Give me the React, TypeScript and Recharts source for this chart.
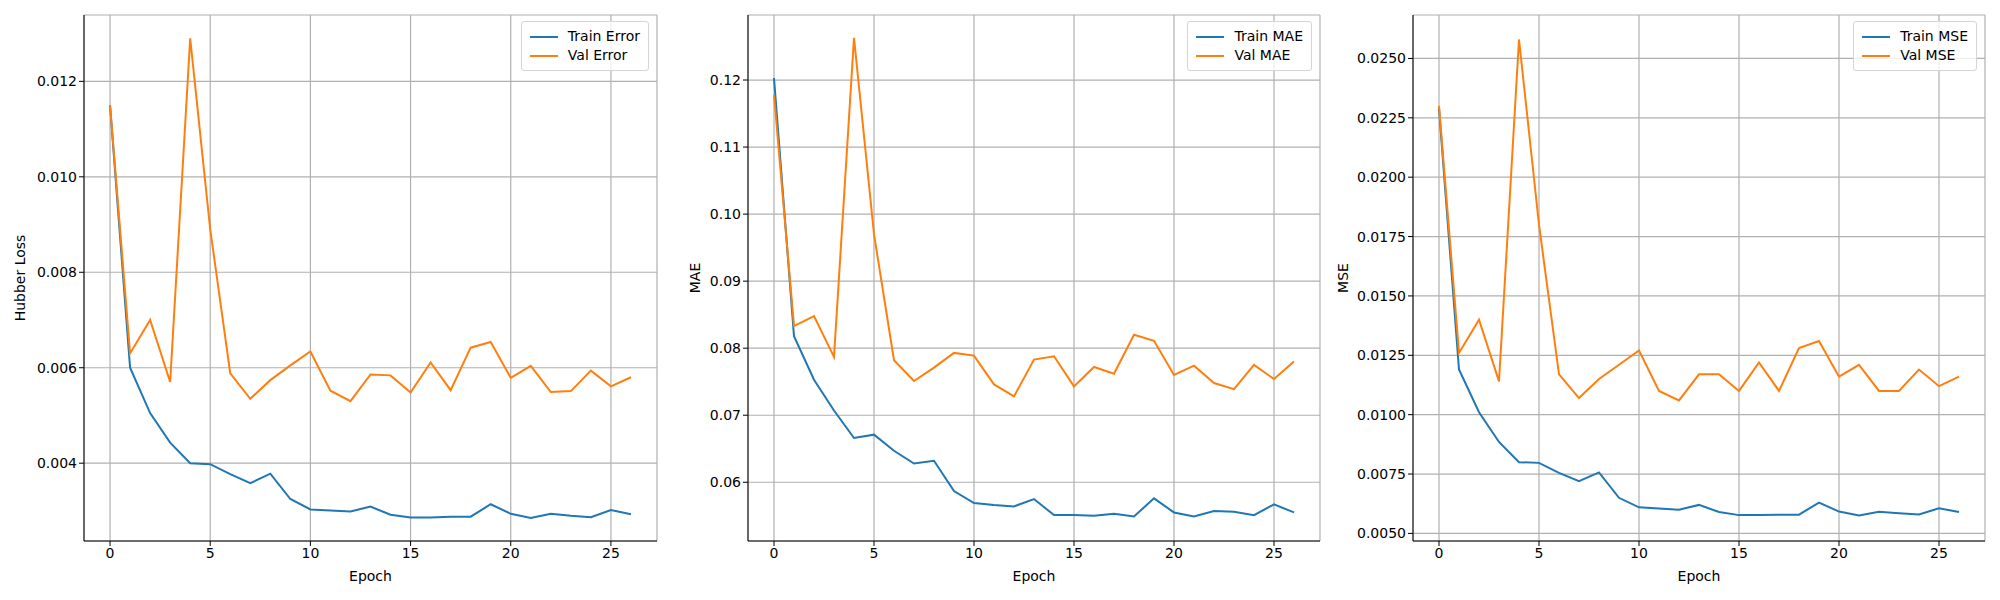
import React from 'react';
import { LineChart, Line, XAxis, YAxis, CartesianGrid, Label } from 'recharts';

const epochs = Array.from({ length: 27 }, (_, i) => i);
const xTicks = [0, 5, 10, 15, 20, 25];

const trainHuber = [0.0115,0.0060,0.00505,0.00443,0.0040,0.00398,0.00377,0.00358,0.00378,0.00325,0.00303,0.00301,0.00299,0.00309,0.00292,0.00286,0.00286,0.00288,0.00288,0.00314,0.00294,0.00285,0.00294,0.0029,0.00287,0.00302,0.00293];
const valHuber = [0.0115,0.0063,0.0070,0.0057,0.0129,0.0089,0.00588,0.00535,0.00574,0.00605,0.00634,0.00552,0.0053,0.00586,0.00584,0.00548,0.00611,0.00553,0.00642,0.00654,0.00579,0.00604,0.00549,0.00551,0.00594,0.00561,0.0058];
const trainMae = [0.1203,0.0818,0.0753,0.0707,0.0666,0.0671,0.0647,0.0628,0.0632,0.0587,0.0569,0.0566,0.0564,0.0575,0.0551,0.0551,0.0550,0.0553,0.0549,0.0576,0.0555,0.0549,0.0557,0.0556,0.0551,0.0567,0.0555];
const valMae = [0.1178,0.0833,0.0848,0.0787,0.1263,0.0970,0.0782,0.0751,0.0771,0.0793,0.0789,0.0746,0.0728,0.0783,0.0788,0.0743,0.0772,0.0762,0.0820,0.0811,0.0760,0.0774,0.0748,0.0739,0.0775,0.0754,0.0780];
const trainMse = [0.0229,0.0119,0.0101,0.00885,0.0080,0.00797,0.00755,0.0072,0.00757,0.0065,0.0061,0.00605,0.006,0.0062,0.0059,0.00577,0.00577,0.00579,0.00579,0.0063,0.00592,0.00575,0.00591,0.00585,0.0058,0.00606,0.00590];
const valMse = [0.0230,0.0126,0.0140,0.0114,0.0258,0.0180,0.0117,0.0107,0.0115,0.0121,0.0127,0.0110,0.0106,0.0117,0.0117,0.0110,0.0122,0.0110,0.0128,0.0131,0.0116,0.0121,0.0110,0.0110,0.0119,0.0112,0.0116];

const huberTicks = [0.004, 0.006, 0.008, 0.010, 0.012];
const maeTicks = [0.06, 0.07, 0.08, 0.09, 0.10, 0.11, 0.12];
const mseTicks = [0.005, 0.0075, 0.01, 0.0125, 0.015, 0.0175, 0.02, 0.0225, 0.025];

const BLUE = '#1f77b4';
const ORANGE = '#ff7f0e';
const FONT = 'DejaVu Sans';

function LegendBox({ names, right }: { names: string[]; right: number }) {
  return (
    <div style={{ position: 'absolute', top: 21, right, border: '1px solid #d5d5d5', borderRadius: 3, background: 'rgba(255,255,255,0.8)', padding: '5px 8px', fontFamily: FONT, fontSize: 14, lineHeight: '19px' }}>
      {names.map((n, i) => (
        <div key={n} style={{ display: 'flex', alignItems: 'center' }}>
          <span style={{ display: 'inline-block', width: 28, height: 2, background: i === 0 ? BLUE : ORANGE, marginRight: 10 }} />
          <span>{n}</span>
        </div>
      ))}
    </div>
  );
}

type PanelProps = {
  left: number; width: number; marginLeft: number; yWidth: number;
  train: number[]; val: number[]; names: string[]; ylabel: string;
  domain: [number, number]; ticks: number[]; fmt: (v: number) => string;
};

function Panel(p: PanelProps) {
  const data = epochs.map((e, i) => ({ epoch: e, train: p.train[i], val: p.val[i] }));
  const tickStyle = { fontFamily: FONT, fontSize: 14, fill: '#000' };
  return (
    <div style={{ position: 'absolute', left: p.left, top: 0, width: p.width, height: 600 }}>
      <LineChart width={p.width} height={600} data={data} margin={{ top: 15, right: 3, bottom: 19, left: p.marginLeft }}>
        <CartesianGrid stroke="#b0b0b0" strokeWidth={1.2} />
        <XAxis dataKey="epoch" type="number" domain={[-1.3, 27.3]} ticks={xTicks} allowDataOverflow
          stroke="#000" tick={tickStyle} tickLine={{ stroke: '#000' }} tickSize={5} height={40}>
          <Label value="Epoch" position="insideBottom" offset={0} style={{ fontFamily: FONT, fontSize: 14, fill: '#000' }} />
        </XAxis>
        <XAxis xAxisId="top" orientation="top" dataKey="epoch" type="number" domain={[-1.3, 27.3]} tick={false} tickLine={false} stroke="#000" height={0} />
        <YAxis type="number" domain={p.domain} ticks={p.ticks} allowDataOverflow width={p.yWidth}
          stroke="#000" tick={tickStyle} tickLine={{ stroke: '#000' }} tickSize={5} tickFormatter={p.fmt}>
          <Label value={p.ylabel} angle={-90} position="insideLeft" offset={10} style={{ fontFamily: FONT, fontSize: 14, fill: '#000', textAnchor: 'middle' }} />
        </YAxis>
        <YAxis yAxisId="right" orientation="right" type="number" domain={p.domain} tick={false} tickLine={false} stroke="#000" width={0} />
        <Line dataKey="train" stroke={BLUE} strokeWidth={2} dot={false} isAnimationActive={false} />
        <Line dataKey="val" stroke={ORANGE} strokeWidth={2} dot={false} isAnimationActive={false} />
      </LineChart>
      <LegendBox names={p.names} right={11} />
    </div>
  );
}

export default function App() {
  return (
    <div style={{ position: 'absolute', left: 0, top: 0, width: 2000, height: 600, background: '#fff' }}>
      <Panel left={0} width={660} marginLeft={10} yWidth={74} train={trainHuber} val={valHuber}
        names={['Train Error', 'Val Error']} ylabel="Hubber Loss" domain={[0.00237, 0.01339]} ticks={huberTicks} fmt={(v) => v.toFixed(3)} />
      <Panel left={680} width={643} marginLeft={5} yWidth={63} train={trainMae} val={valMae}
        names={['Train MAE', 'Val MAE']} ylabel="MAE" domain={[0.05124, 0.1297]} ticks={maeTicks} fmt={(v) => v.toFixed(2)} />
      <Panel left={1330} width={658} marginLeft={3} yWidth={80} train={trainMse} val={valMse}
        names={['Train MSE', 'Val MSE']} ylabel="MSE" domain={[0.00468, 0.02683]} ticks={mseTicks} fmt={(v) => v.toFixed(4)} />
    </div>
  );
}
